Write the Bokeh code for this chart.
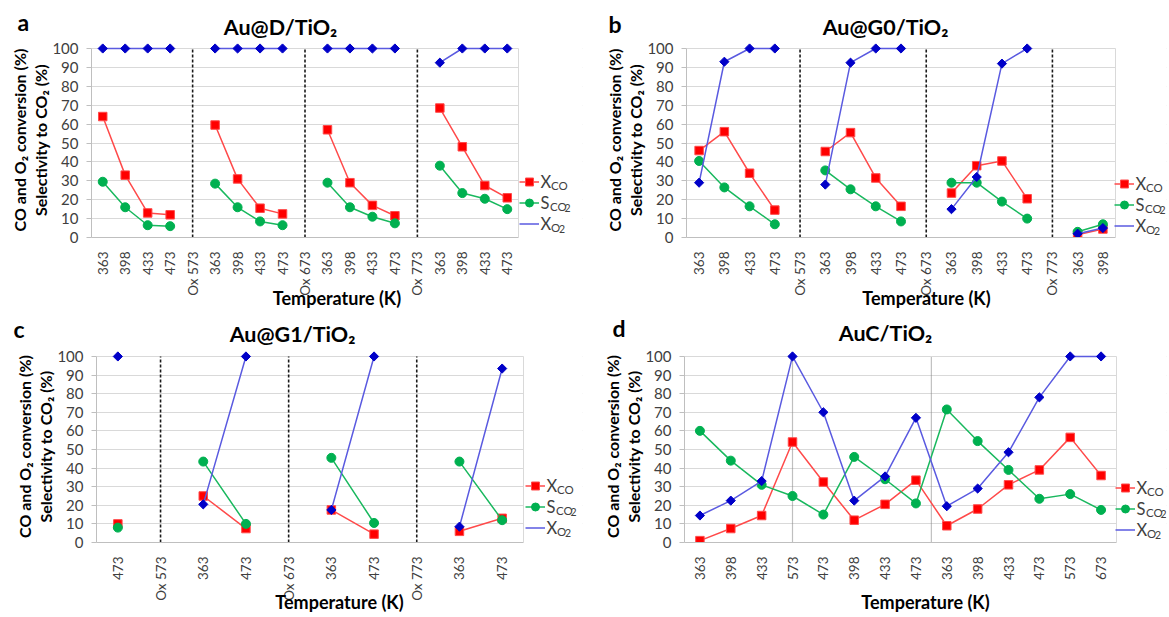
import numpy as np
from bokeh.plotting import figure
from bokeh.layouts import column, row
from bokeh.models import (Range1d, FixedTicker, Label, Legend, LegendItem, Title,
                          ColumnDataSource, BoxAnnotation)
from bokeh.core.properties import value
from bokeh.embed import file_html
from bokeh.resources import INLINE

# ---------------- data ----------------
a_labels = ["363", "398", "433", "473", "Ox 573", "363", "398", "433", "473", "Ox 673",
            "363", "398", "433", "473", "Ox 773", "363", "398", "433", "473"]
a_xco = [64, 33, 13, 12, None, 59.5, 31, 15.5, 12.5, None, 57, 29, 17, 11.5, None, 68.5, 48, 27.5, 21]
a_sco2 = [29.5, 16, 6.5, 6, None, 28.5, 16, 8.5, 6.5, None, 29, 16, 11, 7.5, None, 38, 23.5, 20.5, 15]
a_xo2 = [100, 100, 100, 100, None, 100, 100, 100, 100, None, 100, 100, 100, 100, None, 92.5, 100, 100, 100]

b_labels = ["363", "398", "433", "473", "Ox 573", "363", "398", "433", "473", "Ox 673",
            "363", "398", "433", "473", "Ox 773", "363", "398"]
b_xco = [46, 56, 34, 14.5, None, 45.5, 55.5, 31.5, 16.5, None, 23.5, 38, 40.5, 20.5, None, 1.5, 4.5]
b_sco2 = [40.5, 26.5, 16.5, 7, None, 35.5, 25.5, 16.5, 8.5, None, 29, 29, 19, 10, None, 3, 7]
b_xo2 = [29, 93, 100, 100, None, 28, 92.5, 100, 100, None, 15, 32, 92, 100, None, 2, 5]

c_labels = ["473", "Ox 573", "363", "473", "Ox 673", "363", "473", "Ox 773", "363", "473"]
c_xco = [10, None, 25, 7.5, None, 17.5, 4.5, None, 6, 13]
c_sco2 = [8, None, 43.5, 10, None, 45.5, 10.5, None, 43.5, 12]
c_xo2 = [100, None, 20.5, 100, None, 17.5, 100, None, 8.5, 93.5]

d_labels = ["363", "398", "433", "573", "473", "398", "433", "473",
            "363", "398", "433", "473", "573", "673"]
d_xco = [1, 7.5, 14.5, 54, 32.5, 12, 20.5, 33.5, 9, 18, 31, 39, 56.5, 36]
d_sco2 = [60, 44, 31, 25, 15, 46, 34, 21, 71.5, 54.5, 39, 23.5, 26, 17.5]
d_xo2 = [14.5, 22.5, 33, 100, 70, 22.5, 35.5, 67, 19.5, 29, 48.5, 78, 100, 100]
d_dividers = [3, 7.5]

titles = ["Au@D/TiO₂", "Au@G0/TiO₂", "Au@G1/TiO₂", "AuC/TiO₂"]
letters = ["a", "b", "c", "d"]
y_title_1 = "CO and O₂ conversion (%)"
y_title_2 = "Selectivity to CO₂ (%)"
x_title = "Temperature (K)"
y_ticks = [0, 10, 20, 30, 40, 50, 60, 70, 80, 90, 100]

FONT = "Lato"
RED, RED_L = "#ff0000", "#ff4a4a"
GREEN, GREEN_L = "#00b050", "#19b85e"
BLUE, BLUE_L = "#0000c8", "#5a5ae0"
GRID = "#d9d9d9"
TXT = "#404040"


def arr(v):
    return np.array([np.nan if x is None else x for x in v], dtype=float)


def make_header(W, Hh, top, left, items):
    """Strip above a panel holding the panel letter and the chart title."""
    h = figure(width=W, height=Hh, output_backend="svg", toolbar_location=None,
               x_axis_type=None, y_axis_type=None,
               x_range=Range1d(0, W), y_range=Range1d(Hh, 0),
               min_border_left=0, min_border_right=0, min_border_top=0, min_border_bottom=0)
    h.outline_line_color = None
    h.background_fill_color = "white"
    h.border_fill_color = "white"
    for (px, py, text, size, align) in items:
        h.text(x=[px - left], y=[py - top], text=[text], text_font=value(FONT),
               text_font_size=f"{size}px", text_font_style="bold", text_color="#000000",
               text_align=align, text_baseline="middle")
    return h


def make_panel(idx, labels, xco, sco2, xo2, origin, W, H, F, fr_ext, cfg):
    ox, oy = origin
    fl, ft, fw, fh = F          # plot area (page px): left, top (y=100), width, height
    fb = ft + fh
    n = len(labels)
    pad = min(6, ft - oy)       # room above the 100 line so markers are not cut
    fw_ext = fr_ext - fl        # frame reaches into legend area
    x_end = -0.5 + n * fw_ext / fw
    y_end = 100.0 + 100.0 * pad / fh
    p = figure(width=W, height=H, output_backend="svg", toolbar_location=None,
               x_range=Range1d(-0.5, x_end), y_range=Range1d(0, y_end),
               min_border_left=fl - ox, min_border_top=ft - oy - pad,
               min_border_right=W - (fl - ox) - fw_ext,
               min_border_bottom=H - (ft - oy) - fh)
    p.background_fill_color = "white"
    p.border_fill_color = "white"
    p.outline_line_color = None
    p.xgrid.grid_line_color = None
    p.ygrid.grid_line_color = GRID
    p.ygrid.ticker = FixedTicker(ticks=y_ticks)

    p.yaxis.bounds = (0, 100)
    p.yaxis.ticker = FixedTicker(ticks=y_ticks)
    p.yaxis.axis_line_color = "#bfbfbf"
    p.yaxis.major_tick_line_color = "#bfbfbf"
    p.yaxis.major_tick_out = 5
    p.yaxis.major_tick_in = 0
    p.yaxis.minor_tick_line_color = None
    p.yaxis.major_label_text_font = FONT
    p.yaxis.major_label_text_font_size = "15px"
    p.yaxis.major_label_text_color = TXT
    p.yaxis.major_label_standoff = 8

    p.xaxis.bounds = (-0.5, n - 0.5)
    p.xaxis.ticker = FixedTicker(ticks=list(range(n)))
    p.xaxis.major_label_overrides = {i: lab for i, lab in enumerate(labels)}
    p.xaxis.major_label_orientation = np.pi / 2
    p.xaxis.axis_line_color = "#bfbfbf"
    p.xaxis.major_tick_line_color = None
    p.xaxis.minor_tick_line_color = None
    p.xaxis.major_label_text_font = FONT
    p.xaxis.major_label_text_font_size = "13.5px"
    p.xaxis.major_label_text_color = TXT
    p.xaxis.major_label_standoff = 8
    p.xaxis.axis_label = x_title
    p.xaxis.axis_label_text_font = FONT
    p.xaxis.axis_label_text_font_size = "18px"
    p.xaxis.axis_label_text_font_style = "bold"
    p.xaxis.axis_label_text_color = "#000000"
    p.xaxis.axis_label_standoff = cfg["xstand"]

    # two-line y title (left)
    p.add_layout(Title(text=y_title_2, align="center", text_font=FONT, text_font_size="16px",
                       text_font_style="bold", text_color="#000000", standoff=0), "left")
    p.add_layout(Title(text=y_title_1, align="center", text_font=FONT, text_font_size="16px",
                       text_font_style="bold", text_color="#000000", standoff=0), "left")

    # legend area to the right of the plot area stays blank
    p.add_layout(BoxAnnotation(left=n - 0.5, fill_color="white", fill_alpha=1.0,
                               line_alpha=0, level="underlay"))
    # plot-area right border
    p.segment(x0=[n - 0.5], y0=[0], x1=[n - 0.5], y1=[100], line_color=GRID, line_width=1)

    # separators
    if idx < 3:
        sep = [i for i, lab in enumerate(labels) if lab.startswith("Ox")]
        p.segment(x0=sep, y0=[0] * len(sep), x1=sep, y1=[100] * len(sep),
                  line_color="#1a1a1a", line_width=1.6, line_dash="3 2")
    else:
        sep = d_dividers
        p.segment(x0=sep, y0=[0] * len(sep), x1=sep, y1=[100] * len(sep),
                  line_color="#808080", line_width=1.2, line_dash="1 1")

    x = list(range(n))
    src = ColumnDataSource(dict(x=x, xco=arr(xco), sco2=arr(sco2), xo2=arr(xo2)))
    l1 = p.line("x", "xco", source=src, line_color=RED_L, line_width=1.5)
    m1 = p.scatter("x", "xco", source=src, marker="square", size=8.5,
                   fill_color=RED, line_color=RED_L)
    l2 = p.line("x", "sco2", source=src, line_color=GREEN_L, line_width=1.5)
    m2 = p.scatter("x", "sco2", source=src, marker="circle", size=9,
                   fill_color=GREEN, line_color=GREEN)
    l3 = p.line("x", "xo2", source=src, line_color=BLUE_L, line_width=1.5)
    m3 = p.scatter("x", "xo2", source=src, marker="square", angle=np.pi / 4, size=6.5,
                   fill_color=BLUE, line_color=BLUE)
    m3_leg = p.scatter(x=[], y=[], marker="diamond", size=9, fill_color=BLUE, line_color=BLUE)

    mx, r1, gh = cfg["leg"]
    leg = Legend(items=[LegendItem(label=" ", renderers=[l1, m1]),
                        LegendItem(label=" ", renderers=[l2, m2]),
                        LegendItem(label=" ", renderers=[l3, m3_leg])],
                 location=(mx - 10 - fl, fb - (r1 + 2 * gh + gh / 2)),
                 glyph_width=20, glyph_height=gh, label_height=gh, spacing=0,
                 padding=0, margin=0, label_standoff=0, label_width=2,
                 label_text_font_size="8px",
                 border_line_alpha=0, background_fill_alpha=0)
    p.add_layout(leg)

    def add_text(px, py, text, size):
        p.add_layout(Label(x=px - fl, y=fb - py, x_units="screen", y_units="screen",
                           text=text, text_font=FONT, text_font_size=f"{size}px",
                           text_align="left", text_baseline="middle", text_color=TXT))

    tx = mx + 11
    rows = [r1, r1 + gh, r1 + 2 * gh]
    add_text(tx, rows[0], "X", 16.5)
    add_text(tx + 10.5, rows[0] + 3.5, "CO", 11.5)
    add_text(tx, rows[1], "S", 16.5)
    add_text(tx + 9.5, rows[1] + 3.5, "CO", 11.5)
    add_text(tx + 9.5 + 14.5, rows[1] + 5, "2", 10.5)
    add_text(tx, rows[2], "X", 16.5)
    add_text(tx + 10.5, rows[2] + 3.5, "O", 11.5)
    add_text(tx + 10.5 + 8, rows[2] + 5, "2", 10.5)
    return p


# headers: (page x, page y of text centre, text, size, align)
ha = make_header(584, 39, 0, 0, [(17, 21, letters[0], 23, "left"),
                                 (280, 26, titles[0], 21.5, "center")])
hb = make_header(584, 39, 0, 584, [(608, 23, letters[1], 23, "left"),
                                   (885, 26, titles[1], 21.5, "center")])
hc = make_header(584, 35, 311, 0, [(13, 328, letters[2], 23, "left"),
                                   (292, 333, titles[2], 21.5, "center")])
hd = make_header(584, 35, 311, 584, [(612, 327, letters[3], 23, "left"),
                                     (885, 332, titles[3], 21.5, "center")])

pa = make_panel(0, a_labels, a_xco, a_sco2, a_xo2, (0, 39), 584, 272, (91, 48, 427, 189), 582,
                dict(leg=(529, 181, 21), xstand=-12))
pb = make_panel(1, b_labels, b_xco, b_sco2, b_xo2, (584, 39), 584, 272, (686, 48, 429, 189), 1166,
                dict(leg=(1124, 183, 21), xstand=-12))
pc = make_panel(2, c_labels, c_xco, c_sco2, c_xo2, (0, 346), 584, 270, (96, 356, 427, 187), 582,
                dict(leg=(535, 486, 21), xstand=-13))
pd_ = make_panel(3, d_labels, d_xco, d_sco2, d_xo2, (584, 346), 584, 270, (684, 354, 432, 188), 1166,
                 dict(leg=(1125, 487, 21), xstand=8))

layout = column(row(ha, hb), row(pa, pb), row(hc, hd), row(pc, pd_))
open("out.html", "w").write(file_html(layout, INLINE))
